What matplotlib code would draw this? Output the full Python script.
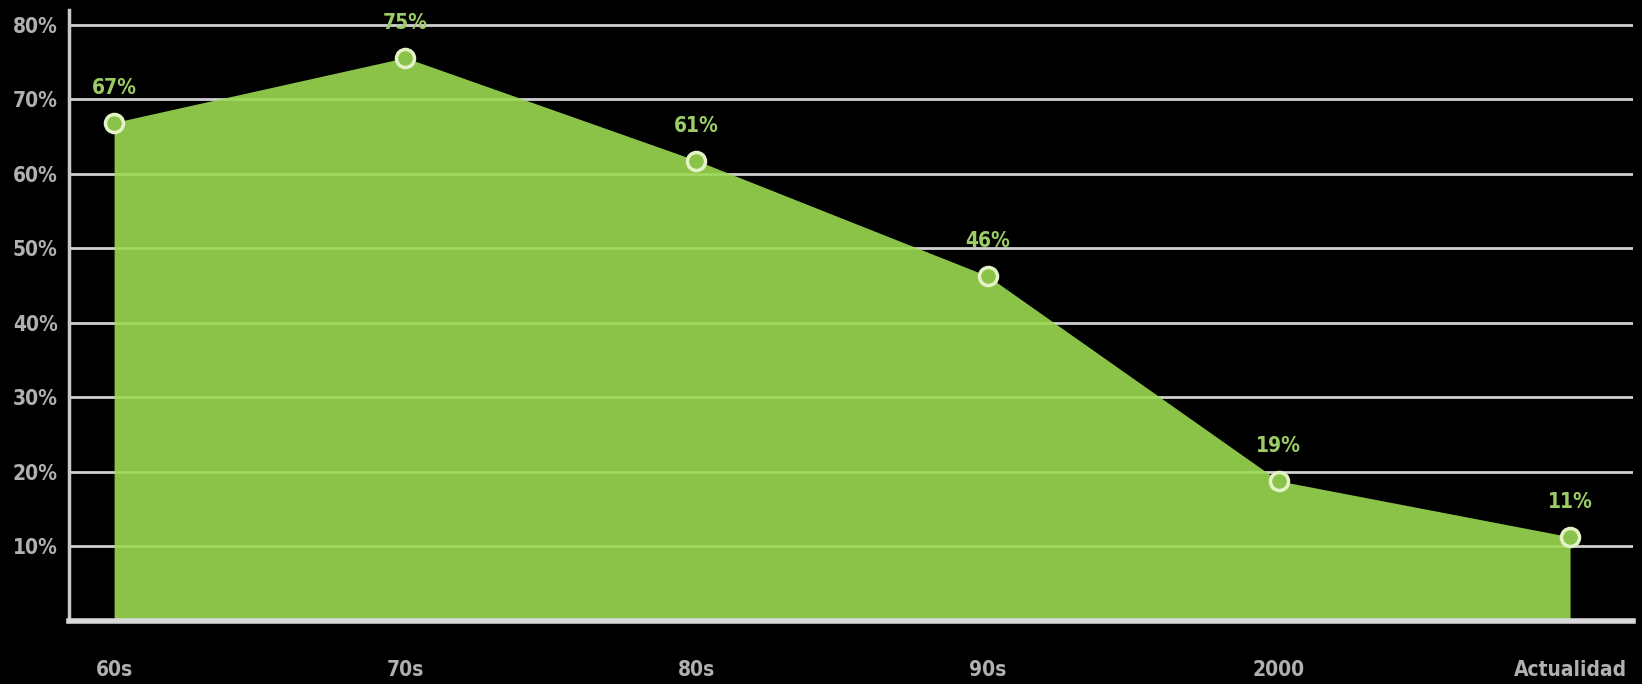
import matplotlib.pyplot as plt
import numpy as np

# data (labels are rounded, points sit slightly off)
decades = ["60s", "70s", "80s", "90s", "2000", "Actualidad"]
values = [66.9, 75.6, 61.8, 46.3, 18.8, 11.3]
value_labels = ["67%", "75%", "61%", "46%", "19%", "11%"]
y_ticks = [10, 20, 30, 40, 50, 60, 70, 80]

plt.rcParams['font.family'] = ['DejaVu Sans']
plt.rcParams['font.stretch'] = 'condensed'
plt.rcParams['font.weight'] = 'bold'

fig = plt.figure(figsize=(16.42, 6.84), dpi=100, facecolor='black')
ax = fig.add_axes([0.042, 0.0921, 0.9525, 0.8933])
ax.set_facecolor('black')

x = np.arange(len(decades))

# grid below the area, area slightly transparent so lines show through
for t in y_ticks:
    ax.axhline(t, color='#d0d0d0', lw=2, zorder=1)

ax.fill_between(x, 0, values, color='#9bd952', alpha=0.9, lw=0, zorder=2)
ax.plot(x, values, 'o', ms=13, mfc='#8bc34a', mec='#e4f2c8', mew=2.5, zorder=4)

for xi, v, lab in zip(x, values, value_labels):
    ax.annotate(lab, (xi, v), xytext=(0, 25), textcoords='offset points',
                ha='center', va='center', color='#9ccc65', fontsize=15,
                fontweight='bold', zorder=5)

ax.set_xlim(-0.155, 5.216)
ax.set_ylim(0, 82)
ax.set_yticks(y_ticks)
ax.set_yticklabels([f"{t}%" for t in y_ticks])
ax.set_xticks(x)
ax.set_xticklabels(decades)
ax.tick_params(axis='both', length=0, colors='#b0b0b0', labelsize=15)
ax.tick_params(axis='y', pad=8)
ax.tick_params(axis='x', pad=28)

for s in ['top', 'right']:
    ax.spines[s].set_visible(False)
ax.spines['left'].set_color('#c8c8c8')
ax.spines['left'].set_linewidth(2.5)
ax.spines['bottom'].set_color('#d8d8d8')
ax.spines['bottom'].set_linewidth(4)
ax.spines['bottom'].set_zorder(6)

fig.savefig('out.png', dpi=100, facecolor='black')
